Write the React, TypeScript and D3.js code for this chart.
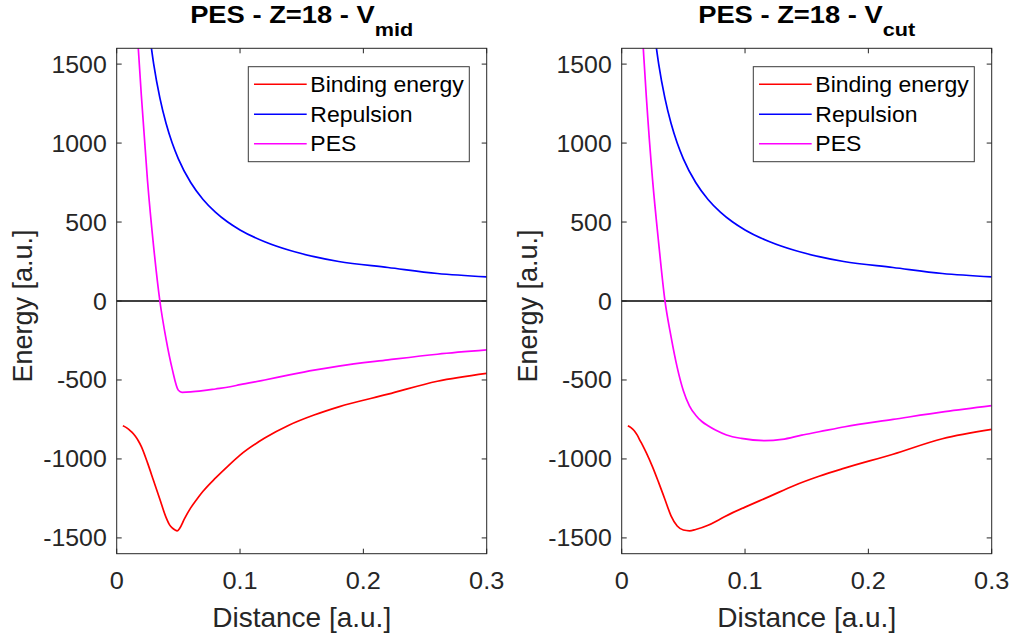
import React from "react";
import * as d3 from "d3";

// ---- data ----
const xTicks = [0, 0.1, 0.2, 0.3];
const xTickLabels = ["0", "0.1", "0.2", "0.3"];
const yTicks = [-1500, -1000, -500, 0, 500, 1000, 1500];
const yTickLabels = ["-1500", "-1000", "-500", "0", "500", "1000", "1500"];
const seriesNames = ["Binding energy", "Repulsion", "PES"];
const seriesColors = ["#ff0000", "#0000ff", "#ff00ff"];

// Repulsion (identical in both panels)
const repDist = [0.027, 0.03, 0.035, 0.04, 0.045, 0.05, 0.06, 0.07, 0.08, 0.09, 0.1, 0.12, 0.14, 0.16, 0.18, 0.22, 0.26, 0.3];
const repulsion = [1667, 1500, 1286, 1125, 1000, 900, 750, 643, 563, 500, 450, 375, 321, 281, 250, 212, 174, 153];

// Left panel: V_mid
const bindDistMid = [0.005, 0.0075, 0.01, 0.0125, 0.015, 0.0175, 0.02, 0.025, 0.03, 0.035, 0.04, 0.043, 0.045, 0.047, 0.049, 0.051, 0.055, 0.06, 0.065, 0.07, 0.08, 0.09, 0.1, 0.12, 0.14, 0.16, 0.18, 0.22, 0.26, 0.3];
const bindingMid = [-790, -800, -814, -832, -855, -885, -922, -1025, -1140, -1255, -1370, -1419, -1437, -1448, -1455, -1440, -1378, -1310, -1255, -1205, -1122, -1047, -976, -868, -785, -722, -670, -590, -508, -458];
const pesDistMid = [0.016, 0.0175, 0.02, 0.025, 0.03, 0.035, 0.04, 0.045, 0.05, 0.053, 0.06, 0.07, 0.08, 0.092, 0.1, 0.12, 0.14, 0.16, 0.18, 0.22, 0.26, 0.3];
const pesMid = [1790, 1600, 1300, 760, 340, 0, -240, -430, -565, -578, -576, -568, -557, -543, -530, -500, -468, -438, -412, -373, -337, -310];

// Right panel: V_cut
const bindDistCut = [0.005, 0.0075, 0.01, 0.0125, 0.015, 0.0175, 0.02, 0.025, 0.03, 0.035, 0.04, 0.045, 0.05, 0.055, 0.06, 0.07, 0.08, 0.09, 0.1, 0.12, 0.14, 0.16, 0.18, 0.22, 0.26, 0.3];
const bindingCut = [-790, -802, -820, -848, -885, -922, -962, -1050, -1150, -1255, -1360, -1425, -1450, -1455, -1447, -1420, -1380, -1340, -1305, -1237, -1168, -1110, -1060, -970, -872, -813];
const pesDistCut = [0.016, 0.0175, 0.02, 0.025, 0.03, 0.035, 0.04, 0.045, 0.05, 0.055, 0.06, 0.065, 0.07, 0.076, 0.085, 0.097, 0.116, 0.13, 0.146, 0.16, 0.181, 0.22, 0.262, 0.3];
const pesCut = [1790, 1600, 1290, 770, 365, 5, -225, -420, -568, -665, -723, -763, -790, -817, -848, -870, -884, -876, -849, -828, -796, -750, -701, -663];

const FONT = "'Liberation Sans', Arial, Helvetica, sans-serif";
const AXC = "#262626";

type PanelProps = {
  id: string;
  ox: number;
  sub: string;
  bindX: number[];
  bindY: number[];
  pesX: number[];
  pesY: number[];
};

const TOP = 48.3;
const BOTTOM = 553.7;
const W = 370;

function Panel({ id, ox, sub, bindX, bindY, pesX, pesY }: PanelProps) {
  const x = d3.scaleLinear().domain([0, 0.3]).range([ox, ox + W]);
  const y = d3.scaleLinear().domain([-1600, 1600]).range([BOTTOM, TOP]);
  const line = d3
    .line<[number, number]>()
    .x((d) => x(d[0]))
    .y((d) => y(d[1]))
    .curve(d3.curveMonotoneX);
  const zip = (a: number[], b: number[]) => a.map((v, i) => [v, b[i]] as [number, number]);
  const series = [zip(bindX, bindY), zip(repDist, repulsion), zip(pesX, pesY)];
  const cx = ox + W / 2;
  const tick = 5;
  const lx = ox + 131.6;
  const ly = 66.7;
  const rows = [84.3, 114.3, 143.7];
  return (
    <g>
      <defs>
        <clipPath id={id}>
          <rect x={ox} y={TOP} width={W} height={BOTTOM - TOP} />
        </clipPath>
      </defs>
      {/* zero line */}
      <line x1={x(0)} x2={x(0.3)} y1={y(0)} y2={y(0)} stroke="#000" strokeWidth={1.6} />
      <g clipPath={`url(#${id})`}>
        {series.map((s, i) => (
          <path key={i} d={line(s) || ""} fill="none" stroke={seriesColors[i]} strokeWidth={1.7} />
        ))}
      </g>
      {/* box */}
      <rect x={ox} y={TOP} width={W} height={BOTTOM - TOP} fill="none" stroke={AXC} strokeWidth={1} />
      {xTicks.map((t, i) => (
        <g key={"x" + i}>
          <line x1={x(t)} x2={x(t)} y1={BOTTOM} y2={BOTTOM - tick} stroke={AXC} />
          <line x1={x(t)} x2={x(t)} y1={TOP} y2={TOP + tick} stroke={AXC} />
          <text
            transform={`translate(${x(t)},588.5) scale(1.1,1)`}
            textAnchor="middle"
            fontSize={23}
            fill={AXC}
            fontFamily={FONT}
          >
            {xTickLabels[i]}
          </text>
        </g>
      ))}
      {yTicks.map((t, i) => (
        <g key={"y" + i}>
          <line x1={ox} x2={ox + tick} y1={y(t)} y2={y(t)} stroke={AXC} />
          <line x1={ox + W} x2={ox + W - tick} y1={y(t)} y2={y(t)} stroke={AXC} />
          <text
            transform={`translate(${ox - 10},${y(t) + 8.5}) scale(1.08,1)`}
            textAnchor="end"
            fontSize={23}
            fill={AXC}
            fontFamily={FONT}
          >
            {yTickLabels[i]}
          </text>
        </g>
      ))}
      <text x={cx} y={626.7} textAnchor="middle" fontSize={28} fill={AXC} fontFamily={FONT}>
        Distance [a.u.]
      </text>
      <text
        transform={`translate(${ox - 84.5},${306}) rotate(-90)`}
        textAnchor="middle"
        fontSize={27}
        fill={AXC}
        fontFamily={FONT}
      >
        Energy [a.u.]
      </text>
      <text
        transform={`translate(${cx},22.7) scale(1.14,1)`}
        textAnchor="middle"
        fontSize={24}
        fontWeight="bold"
        fill="#000"
        fontFamily={FONT}
      >
        PES - Z=18 - V
        <tspan dy={13.5} fontSize={19}>{sub}</tspan>
      </text>
      {/* legend */}
      <rect x={lx} y={ly} width={221} height={95} fill="#fff" stroke="#3a3a3a" strokeWidth={1} />
      {seriesNames.map((n, i) => (
        <g key={"l" + i}>
          <line x1={lx + 5.7} x2={lx + 58.4} y1={rows[i]} y2={rows[i]} stroke={seriesColors[i]} strokeWidth={1.5} />
          <text
            transform={`translate(${lx + 62},${rows[i] + 7.5}) scale(1.08,1)`}
            fontSize={21.3}
            fill="#000"
            fontFamily={FONT}
          >
            {n}
          </text>
        </g>
      ))}
    </g>
  );
}

export default function App() {
  return (
    <svg
      width={1012}
      height={640}
      viewBox="0 0 1012 640"
      style={{ position: "absolute", left: 0, top: 0, background: "#fff" }}
    >
      <rect width={1012} height={640} fill="#fff" />
      <Panel id="clipL" ox={116.7} sub="mid" bindX={bindDistMid} bindY={bindingMid} pesX={pesDistMid} pesY={pesMid} />
      <Panel id="clipR" ox={621.7} sub="cut" bindX={bindDistCut} bindY={bindingCut} pesX={pesDistCut} pesY={pesCut} />
    </svg>
  );
}
